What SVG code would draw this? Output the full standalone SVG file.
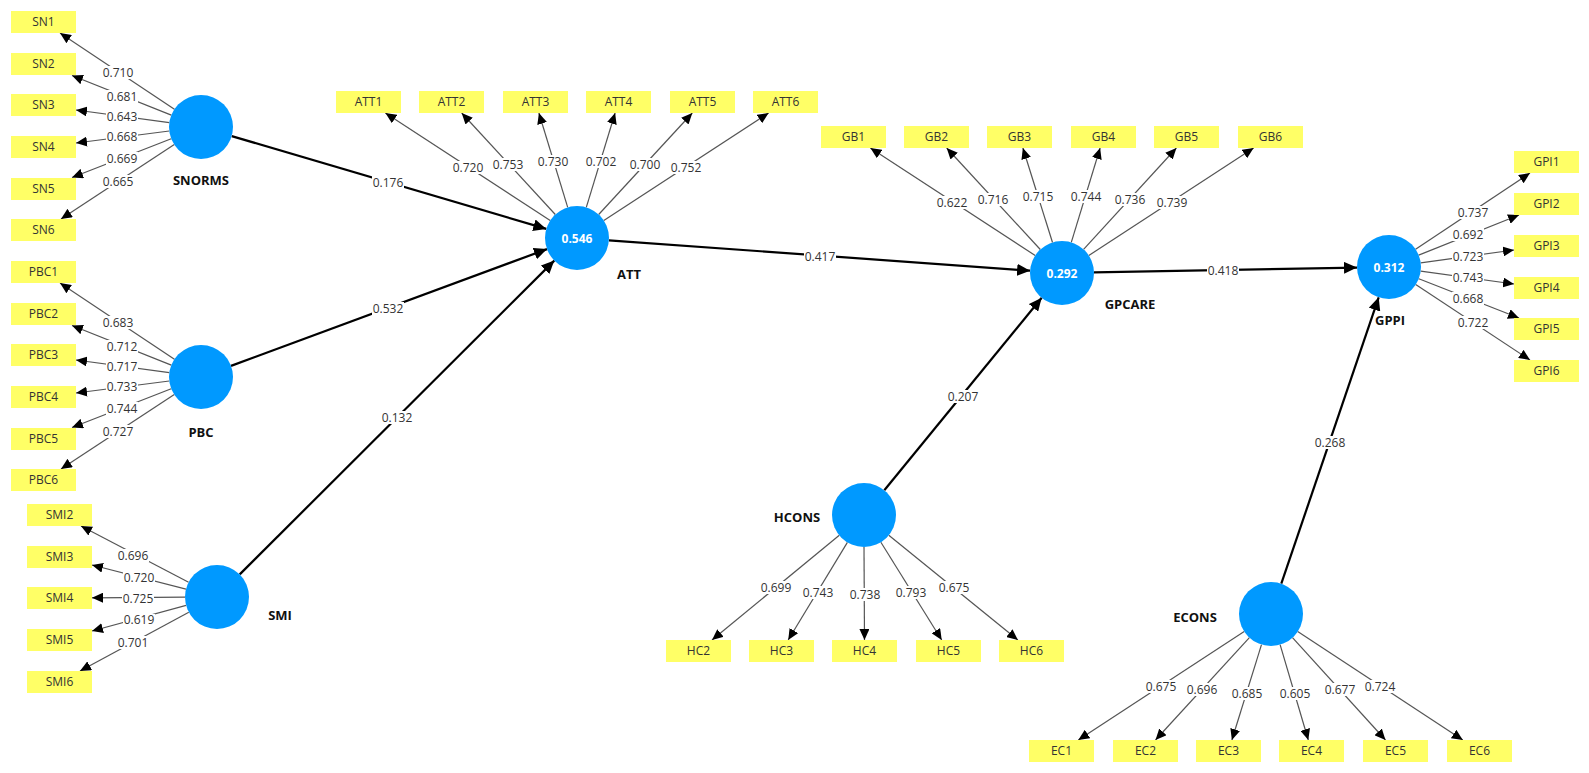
<svg xmlns="http://www.w3.org/2000/svg" width="1589" height="773" viewBox="0 0 1589 773">
<defs>
<style>
.box{fill:#ffff66;}
.bt{font-family:"Open Sans","Noto Sans","Liberation Sans",sans-serif;font-size:12px;fill:#333;text-anchor:middle;}
.lv{fill:#0099ff;}
.lt{font-family:"Open Sans","Noto Sans","Liberation Sans",sans-serif;font-size:13px;font-weight:bold;fill:#111;text-anchor:middle;}
.rv{font-family:"Open Sans","Noto Sans","Liberation Sans",sans-serif;font-size:12px;font-weight:bold;fill:#fff;text-anchor:middle;}
.ind{stroke:#555;stroke-width:1.2;fill:none;marker-end:url(#ah);}
.str{stroke:#000;stroke-width:2.2;fill:none;marker-end:url(#ahb);}
.lb{fill:#fff;}
.ll{font-family:"Open Sans","Noto Sans","Liberation Sans",sans-serif;font-size:12px;fill:#333;text-anchor:middle;}
</style>
<marker id="ah" markerUnits="userSpaceOnUse" markerWidth="12" markerHeight="10" viewBox="0 0 12 10" refX="11" refY="5" orient="auto"><path d="M0,0 L11,5 L0,10 Z" fill="#000"/></marker>
<marker id="ahb" markerUnits="userSpaceOnUse" markerWidth="14" markerHeight="12" viewBox="0 0 14 12" refX="13" refY="6" orient="auto"><path d="M0,0 L13,6 L0,12 Z" fill="#000"/></marker>
</defs>
<rect width="1589" height="773" fill="#fff"/>

<g id="connectors">
<!-- structural -->
<line class="str" x1="231.7" y1="136.1" x2="546.3" y2="228.9"/>
<line class="str" x1="231" y1="365.9" x2="547" y2="249.1"/>
<line class="str" x1="239.7" y1="574.4" x2="554.3" y2="260.6"/>
<line class="str" x1="608.9" y1="240.3" x2="1030.1" y2="270.7"/>
<line class="str" x1="1094" y1="272.4" x2="1357" y2="267.6"/>
<line class="str" x1="884.3" y1="490.2" x2="1041.7" y2="297.8"/>
<line class="str" x1="1281.3" y1="583.7" x2="1378.7" y2="297.3"/>
<!-- SNORMS indicators -->
<line class="ind" x1="174.4" y1="109.2" x2="60" y2="33"/>
<line class="ind" x1="171.3" y1="115.1" x2="72" y2="75.5"/>
<line class="ind" x1="169.3" y1="122.7" x2="76" y2="110"/>
<line class="ind" x1="169.3" y1="131" x2="76" y2="143"/>
<line class="ind" x1="171.2" y1="138.7" x2="72" y2="177.5"/>
<line class="ind" x1="174.3" y1="144.6" x2="61" y2="219"/>
<!-- PBC indicators -->
<line class="ind" x1="174.4" y1="359.2" x2="60" y2="283"/>
<line class="ind" x1="171.3" y1="365.1" x2="72" y2="325.5"/>
<line class="ind" x1="169.3" y1="372.7" x2="76" y2="360"/>
<line class="ind" x1="169.3" y1="381" x2="76" y2="393"/>
<line class="ind" x1="171.2" y1="388.7" x2="72" y2="427.5"/>
<line class="ind" x1="174.3" y1="394.6" x2="61" y2="469"/>
<!-- SMI indicators -->
<line class="ind" x1="188.6" y1="582.2" x2="81" y2="526"/>
<line class="ind" x1="186" y1="589.1" x2="92" y2="565"/>
<line class="ind" x1="185" y1="597.2" x2="92" y2="597.8"/>
<line class="ind" x1="186.1" y1="605.4" x2="92" y2="631"/>
<line class="ind" x1="188.8" y1="612.2" x2="80" y2="671"/>
<!-- ATT indicators -->
<line class="ind" x1="550.2" y1="220.5" x2="385.4" y2="113"/>
<line class="ind" x1="555.3" y1="214.5" x2="461.7" y2="113"/>
<line class="ind" x1="567.7" y1="207.4" x2="538.9" y2="113"/>
<line class="ind" x1="586.3" y1="207.4" x2="615.1" y2="113"/>
<line class="ind" x1="598.7" y1="214.5" x2="692.3" y2="113"/>
<line class="ind" x1="603.8" y1="220.5" x2="768.6" y2="113"/>
<!-- GPCARE indicators -->
<line class="ind" x1="1035.2" y1="255.5" x2="870.4" y2="148"/>
<line class="ind" x1="1040.3" y1="249.5" x2="946.7" y2="148"/>
<line class="ind" x1="1052.5" y1="242.5" x2="1022.9" y2="148"/>
<line class="ind" x1="1071.3" y1="242.4" x2="1100.1" y2="148"/>
<line class="ind" x1="1083.6" y1="249.4" x2="1176.4" y2="148"/>
<line class="ind" x1="1088.8" y1="255.5" x2="1253.6" y2="148"/>
<!-- GPPI indicators -->
<line class="ind" x1="1415.6" y1="249.2" x2="1530" y2="173"/>
<line class="ind" x1="1418.7" y1="255.1" x2="1519" y2="215"/>
<line class="ind" x1="1420.7" y1="262.8" x2="1514" y2="250"/>
<line class="ind" x1="1420.7" y1="271.2" x2="1514" y2="284"/>
<line class="ind" x1="1418.8" y1="278.7" x2="1519" y2="318"/>
<line class="ind" x1="1415.7" y1="284.6" x2="1530" y2="360"/>
<!-- HCONS indicators -->
<line class="ind" x1="839.3" y1="535.3" x2="712" y2="640"/>
<line class="ind" x1="847.4" y1="542.4" x2="788.2" y2="640"/>
<line class="ind" x1="864" y1="547" x2="864.5" y2="640"/>
<line class="ind" x1="880.9" y1="542.2" x2="941.7" y2="640"/>
<line class="ind" x1="888.8" y1="535.2" x2="1017.9" y2="640"/>
<!-- ECONS indicators -->
<line class="ind" x1="1244.2" y1="631.5" x2="1078.3" y2="740"/>
<line class="ind" x1="1249.4" y1="637.6" x2="1155.5" y2="740"/>
<line class="ind" x1="1261.5" y1="644.6" x2="1231.9" y2="740"/>
<line class="ind" x1="1280.1" y1="644.7" x2="1308.3" y2="740"/>
<line class="ind" x1="1292.5" y1="637.7" x2="1385.5" y2="740"/>
<line class="ind" x1="1297.7" y1="631.6" x2="1462.8" y2="740"/>
</g>

<g id="connector-labels">
<!-- structural labels -->
<rect class="lb" x="372" y="176" width="32" height="13"/><text class="ll" x="388" y="187">0.176</text>
<rect class="lb" x="372" y="302" width="32" height="13"/><text class="ll" x="388" y="313">0.532</text>
<rect class="lb" x="381" y="411" width="32" height="13"/><text class="ll" x="397" y="422">0.132</text>
<rect class="lb" x="804" y="250" width="32" height="13"/><text class="ll" x="820" y="261">0.417</text>
<rect class="lb" x="1207" y="264" width="32" height="13"/><text class="ll" x="1223" y="275">0.418</text>
<rect class="lb" x="947" y="390" width="32" height="13"/><text class="ll" x="963" y="401">0.207</text>
<rect class="lb" x="1314" y="436" width="32" height="13"/><text class="ll" x="1330" y="447">0.268</text>
<!-- SNORMS -->
<rect class="lb" x="102" y="66" width="32" height="13"/><text class="ll" x="118" y="77">0.710</text>
<rect class="lb" x="106" y="90" width="32" height="13"/><text class="ll" x="122" y="101">0.681</text>
<rect class="lb" x="106" y="111" width="32" height="12"/><text class="ll" x="122" y="121">0.643</text>
<rect class="lb" x="106" y="131" width="32" height="12"/><text class="ll" x="122" y="141">0.668</text>
<rect class="lb" x="106" y="152" width="32" height="13"/><text class="ll" x="122" y="163">0.669</text>
<rect class="lb" x="102" y="175" width="32" height="13"/><text class="ll" x="118" y="186">0.665</text>
<!-- PBC -->
<rect class="lb" x="102" y="316" width="32" height="13"/><text class="ll" x="118" y="327">0.683</text>
<rect class="lb" x="106" y="340" width="32" height="13"/><text class="ll" x="122" y="351">0.712</text>
<rect class="lb" x="106" y="361" width="32" height="12"/><text class="ll" x="122" y="371">0.717</text>
<rect class="lb" x="106" y="381" width="32" height="12"/><text class="ll" x="122" y="391">0.733</text>
<rect class="lb" x="106" y="402" width="32" height="13"/><text class="ll" x="122" y="413">0.744</text>
<rect class="lb" x="102" y="425" width="32" height="13"/><text class="ll" x="118" y="436">0.727</text>
<!-- SMI -->
<rect class="lb" x="117" y="549" width="32" height="13"/><text class="ll" x="133" y="560">0.696</text>
<rect class="lb" x="123" y="572" width="32" height="12"/><text class="ll" x="139" y="582">0.720</text>
<rect class="lb" x="122" y="593" width="32" height="12"/><text class="ll" x="138" y="603">0.725</text>
<rect class="lb" x="123" y="614" width="32" height="12"/><text class="ll" x="139" y="624">0.619</text>
<rect class="lb" x="117" y="636" width="32" height="13"/><text class="ll" x="133" y="647">0.701</text>
<!-- ATT -->
<rect class="lb" x="452" y="161" width="32" height="13"/><text class="ll" x="468" y="172">0.720</text>
<rect class="lb" x="492" y="158" width="32" height="13"/><text class="ll" x="508" y="169">0.753</text>
<rect class="lb" x="537" y="155" width="32" height="13"/><text class="ll" x="553" y="166">0.730</text>
<rect class="lb" x="585" y="155" width="32" height="13"/><text class="ll" x="601" y="166">0.702</text>
<rect class="lb" x="629" y="158" width="32" height="13"/><text class="ll" x="645" y="169">0.700</text>
<rect class="lb" x="670" y="161" width="32" height="13"/><text class="ll" x="686" y="172">0.752</text>
<!-- GPCARE -->
<rect class="lb" x="936" y="196" width="32" height="13"/><text class="ll" x="952" y="207">0.622</text>
<rect class="lb" x="977" y="193" width="32" height="13"/><text class="ll" x="993" y="204">0.716</text>
<rect class="lb" x="1022" y="190" width="32" height="13"/><text class="ll" x="1038" y="201">0.715</text>
<rect class="lb" x="1070" y="190" width="32" height="13"/><text class="ll" x="1086" y="201">0.744</text>
<rect class="lb" x="1114" y="193" width="32" height="13"/><text class="ll" x="1130" y="204">0.736</text>
<rect class="lb" x="1156" y="196" width="32" height="13"/><text class="ll" x="1172" y="207">0.739</text>
<!-- GPPI -->
<rect class="lb" x="1457" y="206" width="32" height="13"/><text class="ll" x="1473" y="217">0.737</text>
<rect class="lb" x="1452" y="228" width="32" height="13"/><text class="ll" x="1468" y="239">0.692</text>
<rect class="lb" x="1452" y="251" width="32" height="12"/><text class="ll" x="1468" y="261">0.723</text>
<rect class="lb" x="1452" y="272" width="32" height="12"/><text class="ll" x="1468" y="282">0.743</text>
<rect class="lb" x="1452" y="292" width="32" height="13"/><text class="ll" x="1468" y="303">0.668</text>
<rect class="lb" x="1457" y="316" width="32" height="13"/><text class="ll" x="1473" y="327">0.722</text>
<!-- HCONS -->
<rect class="lb" x="760" y="581" width="32" height="13"/><text class="ll" x="776" y="592">0.699</text>
<rect class="lb" x="802" y="586" width="32" height="13"/><text class="ll" x="818" y="597">0.743</text>
<rect class="lb" x="849" y="588" width="32" height="13"/><text class="ll" x="865" y="599">0.738</text>
<rect class="lb" x="895" y="586" width="32" height="13"/><text class="ll" x="911" y="597">0.793</text>
<rect class="lb" x="938" y="581" width="32" height="13"/><text class="ll" x="954" y="592">0.675</text>
<!-- ECONS -->
<rect class="lb" x="1145" y="680" width="32" height="13"/><text class="ll" x="1161" y="691">0.675</text>
<rect class="lb" x="1186" y="683" width="32" height="13"/><text class="ll" x="1202" y="694">0.696</text>
<rect class="lb" x="1231" y="687" width="32" height="13"/><text class="ll" x="1247" y="698">0.685</text>
<rect class="lb" x="1279" y="687" width="32" height="13"/><text class="ll" x="1295" y="698">0.605</text>
<rect class="lb" x="1324" y="683" width="32" height="13"/><text class="ll" x="1340" y="694">0.677</text>
<rect class="lb" x="1364" y="680" width="32" height="13"/><text class="ll" x="1380" y="691">0.724</text>
</g>

<!-- latent variables -->
<g id="SNORMS"><circle class="lv" cx="201" cy="127" r="32"/><text class="lt" x="201" y="185">SNORMS</text></g>
<g id="PBC"><circle class="lv" cx="201" cy="377" r="32"/><text class="lt" x="201" y="437">PBC</text></g>
<g id="SMI"><circle class="lv" cx="217" cy="597" r="32"/><text class="lt" x="280" y="620">SMI</text></g>
<g id="ATT"><circle class="lv" cx="577" cy="238" r="32"/><text class="rv" x="577" y="242.5">0.546</text><text class="lt" x="629" y="279">ATT</text></g>
<g id="GPCARE"><circle class="lv" cx="1062" cy="273" r="32"/><text class="rv" x="1062" y="277.5">0.292</text><text class="lt" x="1130" y="309">GPCARE</text></g>
<g id="GPPI"><circle class="lv" cx="1389" cy="267" r="32"/><text class="rv" x="1389" y="271.5">0.312</text><text class="lt" x="1390" y="325">GPPI</text></g>
<g id="HCONS"><circle class="lv" cx="864" cy="515" r="32"/><text class="lt" x="797" y="522">HCONS</text></g>
<g id="ECONS"><circle class="lv" cx="1271" cy="614" r="32"/><text class="lt" x="1195" y="622">ECONS</text></g>

<!-- indicators -->
<g id="SN1"><rect class="box" x="11" y="11" width="65" height="22"/><text class="bt" x="43.5" y="26">SN1</text></g>
<g id="SN2"><rect class="box" x="11" y="53" width="65" height="22"/><text class="bt" x="43.5" y="68">SN2</text></g>
<g id="SN3"><rect class="box" x="11" y="94" width="65" height="22"/><text class="bt" x="43.5" y="109">SN3</text></g>
<g id="SN4"><rect class="box" x="11" y="136" width="65" height="22"/><text class="bt" x="43.5" y="151">SN4</text></g>
<g id="SN5"><rect class="box" x="11" y="178" width="65" height="22"/><text class="bt" x="43.5" y="193">SN5</text></g>
<g id="SN6"><rect class="box" x="11" y="219" width="65" height="22"/><text class="bt" x="43.5" y="234">SN6</text></g>

<g id="PBC1"><rect class="box" x="11" y="261" width="65" height="22"/><text class="bt" x="43.5" y="276">PBC1</text></g>
<g id="PBC2"><rect class="box" x="11" y="303" width="65" height="22"/><text class="bt" x="43.5" y="318">PBC2</text></g>
<g id="PBC3"><rect class="box" x="11" y="344" width="65" height="22"/><text class="bt" x="43.5" y="359">PBC3</text></g>
<g id="PBC4"><rect class="box" x="11" y="386" width="65" height="22"/><text class="bt" x="43.5" y="401">PBC4</text></g>
<g id="PBC5"><rect class="box" x="11" y="428" width="65" height="22"/><text class="bt" x="43.5" y="443">PBC5</text></g>
<g id="PBC6"><rect class="box" x="11" y="469" width="65" height="22"/><text class="bt" x="43.5" y="484">PBC6</text></g>

<g id="SMI2"><rect class="box" x="27" y="504" width="65" height="22"/><text class="bt" x="59.5" y="519">SMI2</text></g>
<g id="SMI3"><rect class="box" x="27" y="546" width="65" height="22"/><text class="bt" x="59.5" y="561">SMI3</text></g>
<g id="SMI4"><rect class="box" x="27" y="587" width="65" height="22"/><text class="bt" x="59.5" y="602">SMI4</text></g>
<g id="SMI5"><rect class="box" x="27" y="629" width="65" height="22"/><text class="bt" x="59.5" y="644">SMI5</text></g>
<g id="SMI6"><rect class="box" x="27" y="671" width="65" height="22"/><text class="bt" x="59.5" y="686">SMI6</text></g>

<g id="ATT1"><rect class="box" x="336" y="91" width="65" height="22"/><text class="bt" x="368.5" y="106">ATT1</text></g>
<g id="ATT2"><rect class="box" x="419" y="91" width="65" height="22"/><text class="bt" x="451.5" y="106">ATT2</text></g>
<g id="ATT3"><rect class="box" x="503" y="91" width="65" height="22"/><text class="bt" x="535.5" y="106">ATT3</text></g>
<g id="ATT4"><rect class="box" x="586" y="91" width="65" height="22"/><text class="bt" x="618.5" y="106">ATT4</text></g>
<g id="ATT5"><rect class="box" x="670" y="91" width="65" height="22"/><text class="bt" x="702.5" y="106">ATT5</text></g>
<g id="ATT6"><rect class="box" x="753" y="91" width="65" height="22"/><text class="bt" x="785.5" y="106">ATT6</text></g>

<g id="GB1"><rect class="box" x="821" y="126" width="65" height="22"/><text class="bt" x="853.5" y="141">GB1</text></g>
<g id="GB2"><rect class="box" x="904" y="126" width="65" height="22"/><text class="bt" x="936.5" y="141">GB2</text></g>
<g id="GB3"><rect class="box" x="987" y="126" width="65" height="22"/><text class="bt" x="1019.5" y="141">GB3</text></g>
<g id="GB4"><rect class="box" x="1071" y="126" width="65" height="22"/><text class="bt" x="1103.5" y="141">GB4</text></g>
<g id="GB5"><rect class="box" x="1154" y="126" width="65" height="22"/><text class="bt" x="1186.5" y="141">GB5</text></g>
<g id="GB6"><rect class="box" x="1238" y="126" width="65" height="22"/><text class="bt" x="1270.5" y="141">GB6</text></g>

<g id="GPI1"><rect class="box" x="1514" y="151" width="65" height="22"/><text class="bt" x="1546.5" y="166">GPI1</text></g>
<g id="GPI2"><rect class="box" x="1514" y="193" width="65" height="22"/><text class="bt" x="1546.5" y="208">GPI2</text></g>
<g id="GPI3"><rect class="box" x="1514" y="235" width="65" height="22"/><text class="bt" x="1546.5" y="250">GPI3</text></g>
<g id="GPI4"><rect class="box" x="1514" y="277" width="65" height="22"/><text class="bt" x="1546.5" y="292">GPI4</text></g>
<g id="GPI5"><rect class="box" x="1514" y="318" width="65" height="22"/><text class="bt" x="1546.5" y="333">GPI5</text></g>
<g id="GPI6"><rect class="box" x="1514" y="360" width="65" height="22"/><text class="bt" x="1546.5" y="375">GPI6</text></g>

<g id="HC2"><rect class="box" x="666" y="640" width="65" height="22"/><text class="bt" x="698.5" y="655">HC2</text></g>
<g id="HC3"><rect class="box" x="749" y="640" width="65" height="22"/><text class="bt" x="781.5" y="655">HC3</text></g>
<g id="HC4"><rect class="box" x="832" y="640" width="65" height="22"/><text class="bt" x="864.5" y="655">HC4</text></g>
<g id="HC5"><rect class="box" x="916" y="640" width="65" height="22"/><text class="bt" x="948.5" y="655">HC5</text></g>
<g id="HC6"><rect class="box" x="999" y="640" width="65" height="22"/><text class="bt" x="1031.5" y="655">HC6</text></g>

<g id="EC1"><rect class="box" x="1029" y="740" width="65" height="22"/><text class="bt" x="1061.5" y="755">EC1</text></g>
<g id="EC2"><rect class="box" x="1113" y="740" width="65" height="22"/><text class="bt" x="1145.5" y="755">EC2</text></g>
<g id="EC3"><rect class="box" x="1196" y="740" width="65" height="22"/><text class="bt" x="1228.5" y="755">EC3</text></g>
<g id="EC4"><rect class="box" x="1279" y="740" width="65" height="22"/><text class="bt" x="1311.5" y="755">EC4</text></g>
<g id="EC5"><rect class="box" x="1363" y="740" width="65" height="22"/><text class="bt" x="1395.5" y="755">EC5</text></g>
<g id="EC6"><rect class="box" x="1447" y="740" width="65" height="22"/><text class="bt" x="1479.5" y="755">EC6</text></g>
</svg>
